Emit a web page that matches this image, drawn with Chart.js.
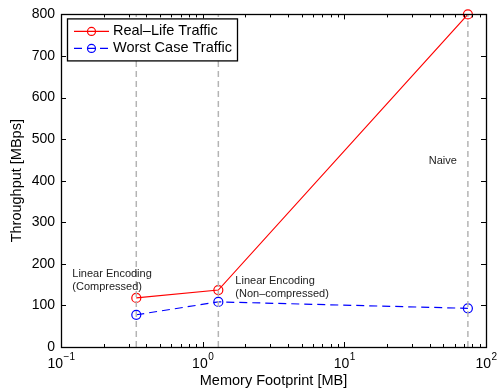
<!DOCTYPE html>
<html>
<head>
<meta charset="utf-8">
<script src="https://cdn.jsdelivr.net/npm/chart.js@4.4.1/dist/chart.umd.min.js"></script>
<style>
  html, body { margin: 0; padding: 0; background: #fff; }
  #wrap { width: 500px; height: 391px; }
</style>
</head>
<body>
<div id="wrap"><canvas id="chart"></canvas></div>
<script>
// memory footprint (MB) of the three schemes
const footprint = [0.34, 1.29, 74.5];
const realLife = [118, 137, 800];
const worstCase = [77.5, 108.5, 93];
const seriesNames = ['Real\u2013Life Traffic', 'Worst Case Traffic'];
const schemeLabels = [
  ['Linear Encoding', '(Compressed)'],
  ['Linear Encoding', '(Non\u2013compressed)'],
  ['Naive']
];
// value (MBps) where each scheme label sits
const labelLevels = [175, 158, 448];
const xTickPowers = [-1, 0, 1, 2];
const yTicks = [0, 100, 200, 300, 400, 500, 600, 700, 800];

const red = '#ff0000';
const blue = '#0000ff';
const gray = '#b4b4b4';
const FONT = '"Liberation Sans", Arial, sans-serif';

const guides = footprint.map(x => ({
  data: [{ x: x, y: yTicks[0] }, { x: x, y: yTicks[yTicks.length - 1] }],
  borderColor: gray,
  borderWidth: 1.5,
  borderDash: [6, 4],
  pointRadius: 0,
  showLine: true,
  guide: true,
}));

const frame = {
  id: 'frame',
  afterDatasetsDraw(chart) {
    const { ctx, chartArea: a, scales } = chart;
    ctx.save();
    ctx.strokeStyle = '#000';
    ctx.lineWidth = 1;
    ctx.beginPath();
    // x ticks, inward, top and bottom
    for (let p = xTickPowers[0]; p <= xTickPowers[xTickPowers.length - 1]; p++) {
      for (let m = 1; m <= 9; m++) {
        const v = m * Math.pow(10, p);
        if (v > Math.pow(10, xTickPowers[xTickPowers.length - 1])) break;
        const px = Math.round(scales.x.getPixelForValue(v)) + 0.5;
        const len = m === 1 ? 5 : 3;
        ctx.moveTo(px, a.bottom); ctx.lineTo(px, a.bottom - len);
        ctx.moveTo(px, a.top); ctx.lineTo(px, a.top + len);
      }
    }
    yTicks.forEach(v => {
      const py = Math.round(scales.y.getPixelForValue(v)) + 0.5;
      ctx.moveTo(a.left, py); ctx.lineTo(a.left + 5, py);
      ctx.moveTo(a.right, py); ctx.lineTo(a.right - 5, py);
    });
    ctx.stroke();
    ctx.lineWidth = 1.3;
    ctx.strokeRect(Math.round(a.left) + 0.5, Math.round(a.top) + 0.5,
      Math.round(a.right - a.left), Math.round(a.bottom - a.top));

    // x tick labels 10^p
    ctx.fillStyle = '#000';
    xTickPowers.forEach(p => {
      const px = scales.x.getPixelForValue(Math.pow(10, p));
      const base = '10', exp = String(p).replace('-', '\u2212');
      ctx.font = '14px ' + FONT;
      const wb = ctx.measureText(base).width;
      ctx.font = '10px ' + FONT;
      const we = ctx.measureText(exp).width;
      const x0 = px - (wb + we) / 2;
      ctx.textBaseline = 'middle';
      ctx.textAlign = 'left';
      ctx.font = '14px ' + FONT;
      ctx.fillText(base, x0, a.bottom + 17);
      ctx.font = '10px ' + FONT;
      ctx.fillText(exp, x0 + wb + 0.5, a.bottom + 10);
    });

    // scheme labels
    ctx.font = '11px ' + FONT;
    ctx.fillStyle = '#222';
    const offsets = [{ dx: -64, align: 'left' }, { dx: 17, align: 'left' }, { dx: -11, align: 'right' }];
    schemeLabels.forEach((lines, i) => {
      const px = scales.x.getPixelForValue(footprint[i]) + offsets[i].dx;
      const py = scales.y.getPixelForValue(labelLevels[i]);
      ctx.textAlign = offsets[i].align;
      ctx.textBaseline = 'middle';
      lines.forEach((t, k) => ctx.fillText(t, px, py + k * 13));
    });

    // legend
    const lx = a.left + 6, ly = a.top + 4, lw = 170, lh = 42;
    ctx.fillStyle = '#fff';
    ctx.fillRect(lx, ly, lw, lh);
    ctx.lineWidth = 1.3;
    ctx.strokeStyle = '#000';
    ctx.strokeRect(lx + 0.5, ly + 0.5, lw, lh);
    const sets = chart.data.datasets.filter(d => !d.guide);
    sets.forEach((d, i) => {
      const cy = ly + 13 + i * 17;
      ctx.strokeStyle = d.borderColor;
      ctx.lineWidth = 1.2;
      ctx.setLineDash(d.borderDash || []);
      ctx.beginPath();
      ctx.moveTo(lx + 7, cy); ctx.lineTo(lx + 42, cy);
      ctx.stroke();
      ctx.setLineDash([]);
      ctx.beginPath();
      ctx.arc(lx + 24.5, cy, 4, 0, Math.PI * 2);
      ctx.stroke();
      ctx.fillStyle = '#000';
      ctx.font = '14.5px ' + FONT;
      ctx.textAlign = 'left';
      ctx.textBaseline = 'middle';
      ctx.fillText(seriesNames[i], lx + 46, cy);
    });
    ctx.restore();
  }
};

new Chart(document.getElementById('chart'), {
  type: 'scatter',
  data: {
    datasets: [
      ...guides,
      {
        label: seriesNames[0],
        data: footprint.map((x, i) => ({ x: x, y: realLife[i] })),
        showLine: true,
        borderColor: red,
        borderWidth: 1.2,
        pointStyle: 'circle',
        pointRadius: 4.5,
        pointBorderWidth: 1.2,
        pointBackgroundColor: 'rgba(0,0,0,0)',
        pointBorderColor: red,
        clip: false,
      },
      {
        label: seriesNames[1],
        data: footprint.map((x, i) => ({ x: x, y: worstCase[i] })),
        showLine: true,
        borderColor: blue,
        borderWidth: 1.2,
        borderDash: [8, 5],
        pointStyle: 'circle',
        pointRadius: 4.5,
        pointBorderWidth: 1.2,
        pointBackgroundColor: 'rgba(0,0,0,0)',
        pointBorderColor: blue,
        clip: false,
      },
    ]
  },
  options: {
    responsive: true,
    maintainAspectRatio: false,
    animation: false,
    layout: { padding: { left: 0, right: 14, top: 12, bottom: 0 } },
    plugins: { legend: { display: false }, tooltip: { enabled: false } },
    scales: {
      x: {
        type: 'logarithmic',
        min: 0.1,
        max: 100,
        grid: { display: false, drawTicks: false },
        border: { display: false },
        ticks: { display: false },
        title: { display: true, text: 'Memory Footprint [MB]', color: '#000', font: { family: FONT, size: 14.5 }, padding: { top: 0, bottom: 1 } },
        afterFit: s => { s.height = 44; },
      },
      y: {
        min: 0,
        max: 800,
        grid: { display: false, drawTicks: false },
        border: { display: false },
        ticks: { stepSize: 100, padding: 6, color: '#000', font: { family: FONT, size: 14 } },
        title: { display: true, text: 'Throughput [MBps]', color: '#000', font: { family: FONT, size: 14.5 }, padding: { top: 8, bottom: 0 } },
        afterFit: s => { s.width = 61; },
      }
    }
  },
  plugins: [frame]
});
</script>
</body>
</html>
